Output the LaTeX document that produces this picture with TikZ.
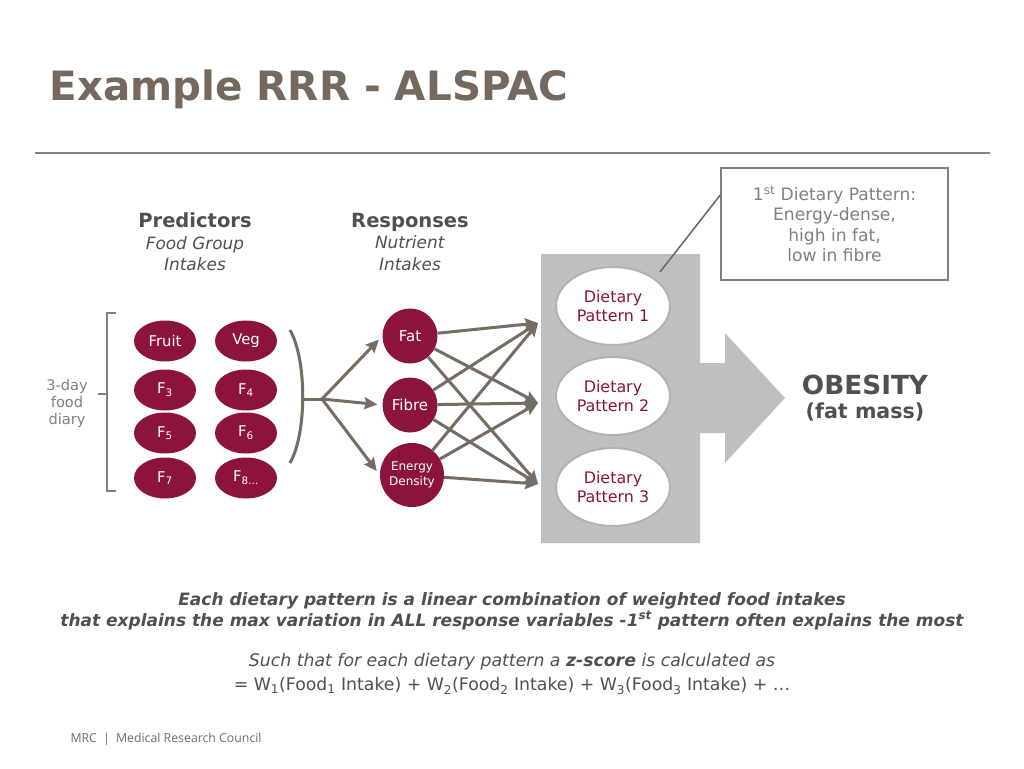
\documentclass[tikz,border=0pt]{standalone}
\usepackage{fontspec}
\setmainfont{DejaVu Sans}
\newfontfamily\mrcfont{Open Sans}
\usetikzlibrary{arrows.meta,shapes.geometric}
\definecolor{titlebrown}{RGB}{117,104,94}
\definecolor{berry}{RGB}{140,20,60}
\definecolor{arrowbrown}{RGB}{117,108,99}
\definecolor{panelgray}{RGB}{191,191,191}
\definecolor{textgray}{RGB}{80,80,80}
\definecolor{notegray}{RGB}{128,128,128}

\begin{document}
\begin{tikzpicture}
  [x=1pt,y=-1pt,
   food/.style={ellipse,fill=berry,text=white,minimum width=62pt,minimum height=41pt,inner sep=0pt,font=\fontsize{14.8}{17}\selectfont},
   nutrient/.style={circle,fill=berry,text=white,minimum size=55pt,inner sep=0pt,align=center,font=\fontsize{15}{17}\selectfont},
   pattern/.style={ellipse,fill=white,draw=black!30,line width=2pt,text=berry,minimum width=114pt,minimum height=78pt,inner sep=0pt,align=center,font=\fontsize{15.9}{19}\selectfont},
   heading/.style={align=center,text=textgray,font=\fontsize{16.9}{21.5}\selectfont}]
  \fill[white] (0,0) rectangle (1024,768);
  \useasboundingbox (0,0) rectangle (1024,768);

  \node[anchor=base west,text=titlebrown,font=\bfseries\fontsize{40.4}{46}\selectfont] (title) at (46,100) {Example RRR - ALSPAC};
  \draw[titlebrown!85,line width=2pt] (35,153) -- (990,153);

  \node[heading] (pred) at (195,242) {{\bfseries\fontsize{19.5}{21.5}\selectfont Predictors}\\\textit{Food Group}\\\textit{Intakes}};
  \node[heading] (resp) at (410,242) {{\bfseries\fontsize{19.5}{21.5}\selectfont Responses}\\\textit{Nutrient}\\\textit{Intakes}};

  % food groups
  \node[food] (fruit) at (165,341) {Fruit};
  \node[food] (veg) at (246,341) {Veg};
  \node[food] (f3) at (165,390) {F\textsubscript{3}};
  \node[food] (f4) at (246,390) {F\textsubscript{4}};
  \node[food] (f5) at (165,433) {F\textsubscript{5}};
  \node[food] (f6) at (246,433) {F\textsubscript{6}};
  \node[food] (f7) at (165,478) {F\textsubscript{7}};
  \node[food] (f8) at (246,478) {F\textsubscript{8…}};

  \node[text=notegray,align=center,font=\fontsize{14.6}{17}\selectfont] (diary) at (67,403) {3-day\\food\\diary};
  \draw[notegray,line width=2.5pt] (116,313) -- (107,313) -- (107,491) -- (116,491);
  \draw[notegray,line width=2.5pt] (107,394) -- (98,394);
  \draw[arrowbrown,line width=3pt] (290,330) .. controls (307,360) and (307,433) .. (290,463);

  % nutrients
  \node[nutrient] (fat) at (410,336) {Fat};
  \node[nutrient] (fibre) at (410,405) {Fibre};
  \node[nutrient,minimum size=64pt,font=\fontsize{12}{14.5}\selectfont] (energy) at (412,475) {Energy\\Density};

  % panel and big arrow
  \fill[panelgray] (541,254) -- (700,254) -- (700,363) -- (725,363) -- (725,333) -- (785,398)
    -- (725,463) -- (725,433) -- (700,433) -- (700,543) -- (541,543) -- cycle;

  \node[pattern] (dp1) at (613,306) {Dietary\\Pattern 1};
  \node[pattern] (dp2) at (613,396) {Dietary\\Pattern 2};
  \node[pattern] (dp3) at (613,487) {Dietary\\Pattern 3};

  \coordinate (split) at (322,399);
  \coordinate (t1) at (538,323);
  \coordinate (t2) at (538,403);
  \coordinate (t3) at (538,484);
  \coordinate (tail) at (660,272);

  \draw[arrowbrown,line width=3pt] (304,399) -- (split);
  \begin{scope}[arrowbrown,line width=3pt,-{Stealth[length=13pt,width=12pt,inset=2pt]}]
  \foreach \to in {fat,fibre,energy}
    \draw[shorten >=5pt] (split) -- (\to.west);
  \foreach \from in {fat,fibre,energy}
    \foreach \to in {t1,t2,t3}
      \draw (\from) -- (\to);
  \end{scope}

  \node[draw=notegray,line width=1.5pt,text=notegray,align=center,minimum width=227pt,minimum height=112pt,font=\fontsize{17.1}{20.5}\selectfont] (note) at (834.5,224) {1\textsuperscript{st} Dietary Pattern:\\Energy-dense,\\high in fat,\\low in fibre};
  \draw[black!60,line width=1.5pt] ([yshift=29pt]note.west) -- (tail);

  \node[text=textgray,font=\bfseries\fontsize{26.3}{30}\selectfont] (obesity) at (865,385) {OBESITY};
  \node[text=textgray,font=\bfseries\fontsize{20.6}{24}\selectfont] (fatmass) at (865,412) {(fat mass)};

  \node[text=textgray,align=center,font=\bfseries\itshape\fontsize{17}{21}\selectfont] (expl) at (512,611)
    {Each dietary pattern is a linear combination of weighted food intakes\\that explains the max variation in ALL response variables -1\textsuperscript{st} pattern often explains the most};
  \node[text=textgray,align=center,font=\fontsize{17.3}{24}\selectfont] (zscore) at (512,674)
    {\textit{Such that for each dietary pattern a \textbf{z-score} is calculated as}\\= W\textsubscript{1}(Food\textsubscript{1} Intake) + W\textsubscript{2}(Food\textsubscript{2} Intake) + W\textsubscript{3}(Food\textsubscript{3} Intake) + …};

  \node[anchor=west,text=titlebrown,font=\mrcfont\fontsize{12.3}{14}\selectfont] (mrc) at (67,739) {MRC\enspace|\enspace Medical Research Council};
\end{tikzpicture}
\end{document}
